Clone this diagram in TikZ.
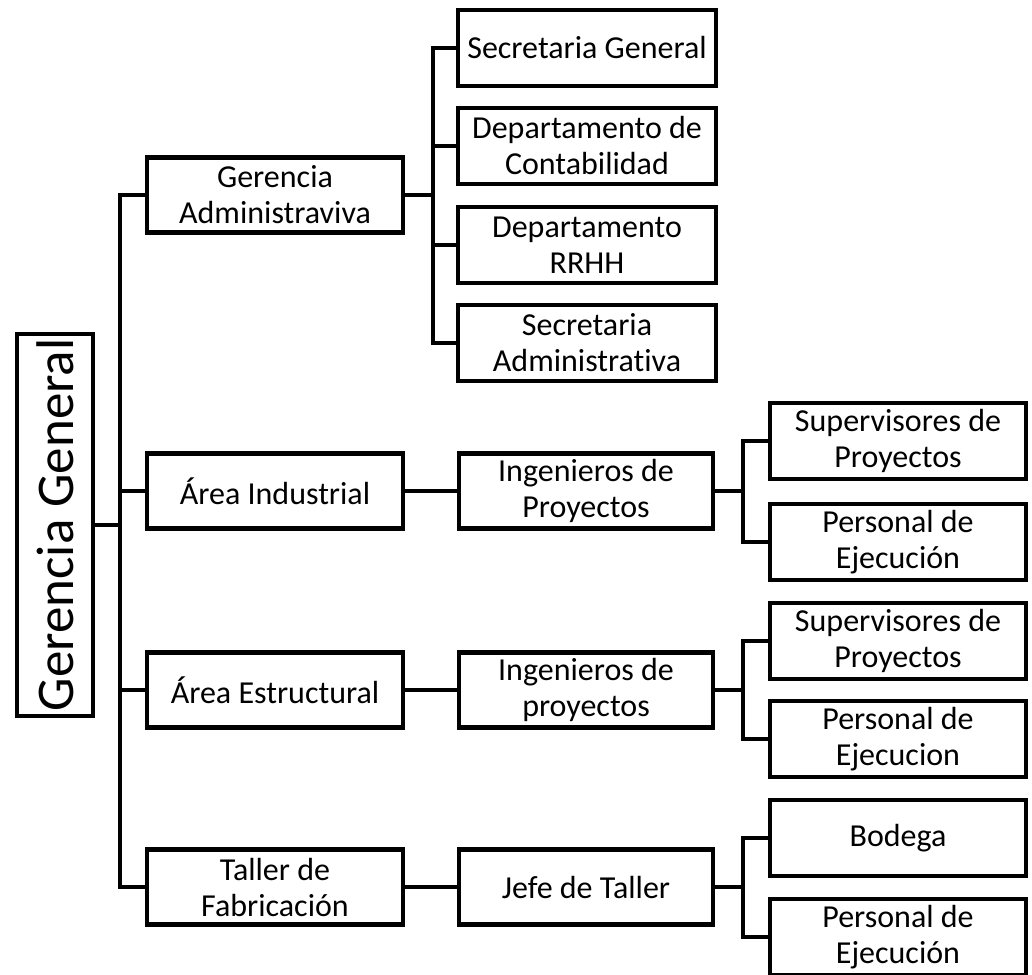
\documentclass[tikz,border=0pt]{standalone}
\usepackage{fontspec}
\setmainfont{Carlito}[Ligatures=NoCommon]
\tikzset{
  caja/.style={draw, line width=4.5pt, minimum width=256pt, minimum height=75pt,
    inner sep=0pt, align=center, font=\fontsize{32}{36}\selectfont},
  cajab/.style={caja, minimum width=254pt},
  cajac/.style={caja, minimum width=258pt, minimum height=76pt},
  cajad/.style={caja, minimum height=76pt},
  linea/.style={line width=4.5pt}
}
\begin{document}
\begin{tikzpicture}[x=1pt,y=-1pt]
\useasboundingbox (0,0) rectangle (1032,974);
\node[caja, rotate=90, minimum width=382pt, minimum height=76pt, font=\fontsize{53}{53}\selectfont] (gg) at (55,525) {Gerencia General};
\node[caja] (admin) at (275,195) {Gerencia\\Administraviva};
\node[caja] (ind) at (275,491) {Área Industrial};
\node[caja] (est) at (275,690) {Área Estructural};
\node[caja] (taller) at (275,887) {Taller de\\Fabricación};
\node[cajac] (sg) at (587,48) {Secretaria General};
\node[cajac] (dc) at (587,146) {Departamento de\\Contabilidad};
\node[cajac] (rh) at (587,245) {Departamento\\RRHH};
\node[cajac] (sa) at (587,343) {Secretaria\\Administrativa};
\node[cajab] (ing1) at (586,491) {Ingenieros de\\Proyectos};
\node[cajab] (ing2) at (586,690) {Ingenieros de\\proyectos};
\node[cajab] (jefe) at (586,887) {Jefe de Taller};
\node[cajad] (sup1) at (898,441) {Supervisores de\\Proyectos};
\node[cajad] (per1) at (898,542) {Personal de\\Ejecución};
\node[cajad] (sup2) at (898,641) {Supervisores de\\Proyectos};
\node[cajad] (per2) at (898,739) {Personal de\\Ejecucion};
\node[cajad] (bod) at (898,838) {Bodega};
\node[cajad] (per3) at (898,937) {Personal de\\Ejecución};
\coordinate (t0) at (120,0);
\coordinate (t1) at (433,0);
\coordinate (t2) at (743,0);
\draw[linea] (gg.south) -- (gg.south -| t0);
\draw[linea] (admin.west) -- (admin.west -| t0) -- (taller.west -| t0) -- (taller.west);
\foreach \n in {ind,est} \draw[linea] (\n.west) -- (\n.west -| t0);
\draw[linea] (admin.east) -- (admin.east -| t1);
\draw[linea] (sg.west) -- (sg.west -| t1) -- (sa.west -| t1) -- (sa.west);
\foreach \n in {dc,rh} \draw[linea] (\n.west) -- (\n.west -| t1);
\foreach \a/\b/\c/\d in {ind/ing1/sup1/per1, est/ing2/sup2/per2, taller/jefe/bod/per3} {
  \draw[linea] (\a.east) -- (\b.west);
  \draw[linea] (\b.east) -- (\b.east -| t2);
  \draw[linea] (\c.west) -- (\c.west -| t2) -- (\d.west -| t2) -- (\d.west);
}
\end{tikzpicture}
\end{document}
